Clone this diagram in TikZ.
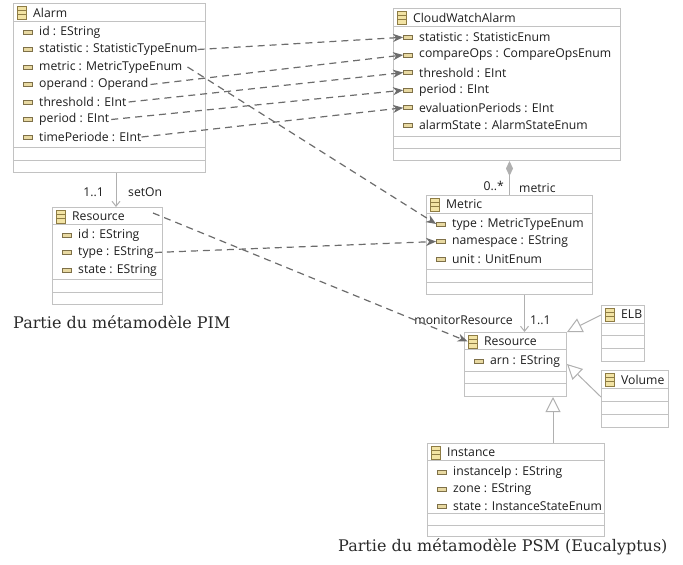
\documentclass[tikz,border=0pt]{standalone}
\usepackage{fontspec}
\newfontfamily\uifont{Open Sans}
\newfontfamily\capfont{DejaVu Serif}
\usetikzlibrary{arrows.meta}
\definecolor{boxline}{HTML}{C2C2C2}
\definecolor{inktext}{HTML}{1E1E1E}
\definecolor{captext}{HTML}{2A2A2A}
\definecolor{mapline}{HTML}{6C6C6C}
\definecolor{assocline}{HTML}{B0B0B0}
\definecolor{iconfill}{HTML}{F2E3A4}
\definecolor{iconedge}{HTML}{8E7C44}
\definecolor{attrfill}{HTML}{E8D9A2}
\definecolor{attredge}{HTML}{7E7048}

% class box, its header icon and title
\newcommand\umlclass[6]{%
  \node[clsbox, minimum width=#4pt, minimum height=#5pt, anchor=north west] (#1) at (#2,#3) {};
  \node[clsicon] (#1-ic) at (#2+8.5,#3+9.5) {};
  \node[uitext, anchor=west] (#1-t) at (#2+20,#3+9.5) {#6};}
% horizontal compartment separator, offset from the top of a box
\newcommand\compsep[2]{%
  \draw[sepline] ([yshift=-#2pt]#1.north west) -- ([yshift=-#2pt]#1.north east);}
% attribute row: icon and label
\newcommand\umlattr[4]{%
  \node[attricon] (#1-i) at (#2+15,#3) {};
  \node[uitext, anchor=west] (#1) at (#2+26,#3) {#4};}

\begin{document}
\begin{tikzpicture}[x=1pt,y=-1pt,
  clsbox/.style={draw=boxline, fill=white, line width=1pt, inner sep=0pt},
  sepline/.style={draw=boxline, line width=1pt},
  uitext/.style={font=\uifont\fontsize{12.2}{14}\selectfont, text=inktext, inner sep=0pt},
  caption/.style={font=\capfont\fontsize{16}{19}\selectfont, text=captext, inner sep=0pt},
  clsicon/.style={draw=iconedge, fill=iconfill, line width=0.8pt, minimum width=9pt,
    minimum height=13pt, inner sep=0pt,
    path picture={
      \draw[iconedge, line width=0.8pt]
        ([yshift=-4.3pt]path picture bounding box.north west) -- ([yshift=-4.3pt]path picture bounding box.north east)
        ([yshift=4.3pt]path picture bounding box.south west) -- ([yshift=4.3pt]path picture bounding box.south east);}},
  attricon/.style={draw=attredge, fill=attrfill, line width=0.7pt, minimum width=9pt,
    minimum height=4pt, inner sep=0pt},
  mapping/.style={draw=mapline, line width=1.2pt, dash pattern=on 7pt off 5pt,
    -{Stealth[length=10pt, width=8pt, inset=3pt, fill=mapline]}},
  assoc/.style={draw=assocline, line width=1pt, -{Straight Barb[length=5pt, width=8pt]}},
  compos/.style={draw=assocline, line width=1pt, {Diamond[length=15pt, width=7pt, fill=assocline]}-},
  generalize/.style={draw=assocline, line width=1pt, -{Triangle[open, length=15pt, width=15pt, fill=white]}}
]
\useasboundingbox (0,0) rectangle (683,565);

% ---------- PIM part ----------
\umlclass{a}{13}{3}{192}{169}{Alarm}
\compsep{a}{18}\compsep{a}{144}\compsep{a}{157}
\umlattr{a-id}{13}{32}{id : EString}
\umlattr{a-stat}{13}{49.5}{statistic : StatisticTypeEnum}
\umlattr{a-met}{13}{67}{metric : MetricTypeEnum}
\umlattr{a-op}{13}{84.5}{operand : Operand}
\umlattr{a-thr}{13}{102}{threshold : EInt}
\umlattr{a-per}{13}{119.5}{period : EInt}
\umlattr{a-tp}{13}{137}{timePeriode : EInt}

\umlclass{r1}{52}{207}{110}{97}{Resource}
\compsep{r1}{17}\compsep{r1}{72}\compsep{r1}{85}
\umlattr{r1-id}{52}{235}{id : EString}
\umlattr{r1-type}{52}{252.5}{type : EString}
\umlattr{r1-state}{52}{270}{state : EString}

\node[caption, anchor=base west] (pimcap) at (13,328) {Partie du métamodèle PIM};

% ---------- PSM part ----------
\umlclass{cw}{393}{8}{227}{152}{CloudWatchAlarm}
\compsep{cw}{18}\compsep{cw}{128}\compsep{cw}{140}
\umlattr{cw-stat}{393}{37.3}{statistic : StatisticEnum}
\umlattr{cw-cmp}{393}{55}{compareOps : CompareOpsEnum}
\umlattr{cw-thr}{393}{72.6}{threshold : EInt}
\umlattr{cw-per}{393}{90.2}{period : EInt}
\umlattr{cw-eval}{393}{107.8}{evaluationPeriods : EInt}
\umlattr{cw-state}{393}{125.4}{alarmState : AlarmStateEnum}

\umlclass{m}{426}{195}{166}{99}{Metric}
\compsep{m}{18}\compsep{m}{74}\compsep{m}{87}
\umlattr{m-type}{426}{224}{type : MetricTypeEnum}
\umlattr{m-ns}{426}{241.5}{namespace : EString}
\umlattr{m-unit}{426}{259}{unit : UnitEnum}

\umlclass{r2}{464}{332}{102}{64}{Resource}
\compsep{r2}{17}\compsep{r2}{39}\compsep{r2}{51.5}
\umlattr{r2-arn}{464}{361}{arn : EString}

\umlclass{elb}{601}{305}{43}{56}{ELB}
\compsep{elb}{18}\compsep{elb}{30.5}\compsep{elb}{43}

\umlclass{vol}{601}{370}{67}{57}{Volume}
\compsep{vol}{18}\compsep{vol}{31}\compsep{vol}{44}

\umlclass{inst}{427}{443}{177}{93}{Instance}
\compsep{inst}{17}\compsep{inst}{70}\compsep{inst}{82}
\umlattr{inst-ip}{427}{472}{instanceIp : EString}
\umlattr{inst-zone}{427}{489}{zone : EString}
\umlattr{inst-state}{427}{506}{state : InstanceStateEnum}

\node[caption, anchor=base west] (psmcap) at (338,551) {Partie du métamodèle PSM (Eucalyptus)};

% ---------- associations and inheritance ----------
\draw[assoc] ([xshift=103pt]a.south west) -- ([xshift=103pt]a.south west |- r1.north);
\node[uitext, anchor=east] (seton-m) at (104,192.5) {1..1};
\node[uitext, anchor=west] (seton-n) at (128,192.5) {setOn};

\draw[compos] (m.north |- cw.south) -- (m.north);
\node[uitext, anchor=east] (metric-m) at (504,186) {0..*};
\node[uitext, anchor=west] (metric-n) at (519,188) {metric};

\draw[assoc] ([xshift=15pt]m.south) -- ([xshift=15pt]m.south |- r2.north);
\node[uitext, anchor=east] (mon-n) at (513,320) {monitorResource};
\node[uitext, anchor=west] (mon-m) at (530,320) {1..1};

\draw[generalize] ([yshift=-10pt]elb.north west) -- (r2.north east);
\draw[generalize] ([yshift=-27pt]vol.north west) -- ([yshift=-32pt]r2.north east);
\draw[generalize] ([xshift=-14pt]r2.south east |- inst.north) -- ([xshift=-14pt]r2.south east);

% ---------- PIM to PSM mappings ----------
\coordinate (r1-out) at (153,213);
\draw[mapping] (a-stat.east) -- (cw-stat-i.west);
\draw[mapping] ([xshift=2pt]a-op.east) -- (cw-cmp-i.west);
\draw[mapping] ([xshift=2pt]a-thr.east) -- (cw-thr-i.west);
\draw[mapping] ([xshift=2pt]a-per.east) -- (cw-per-i.west);
\draw[mapping] (a-tp.east) -- (cw-eval-i.west);
\draw[mapping] ([xshift=5pt]a-met.east) -- (m-type-i.west);
\draw[mapping] (r1-out) -- (r2-ic.west);
\draw[mapping] ([xshift=1pt]r1-type.east) -- (m-ns-i.west);
\end{tikzpicture}
\end{document}
